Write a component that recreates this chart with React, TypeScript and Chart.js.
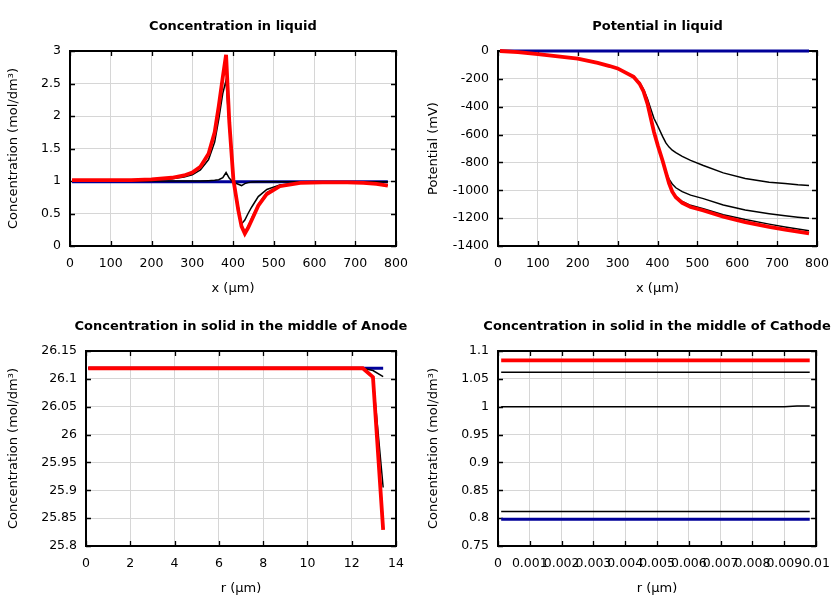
import React, { useEffect, useRef } from 'react';
import { Chart, registerables } from 'chart.js';
Chart.register(...registerables);

const FONT = "'DejaVu Sans', sans-serif";

// ---------- Liquid phase (x in µm) ----------
const xLiquid = [5, 50, 100, 150, 200, 250, 280, 300, 320, 340, 355, 365, 375, 383, 391, 401, 413, 421, 429, 437, 446, 462, 483, 515, 565, 620, 680, 720, 752, 780];

const concLiqBlue = [0.99, 0.99, 0.99, 0.99, 0.99, 0.99, 0.99, 0.99, 0.99, 0.99, 0.99, 0.99, 0.99, 0.99, 0.99, 0.99, 0.99, 0.99, 0.99, 0.99, 0.99, 0.99, 0.99, 0.99, 0.99, 0.99, 0.99, 0.99, 0.99, 0.99];
const concLiqBlack1 = [1.0, 1.0, 1.0, 1.0, 1.0, 1.0, 1.0, 1.0, 1.0, 1.005, 1.01, 1.02, 1.05, 1.13, 1.04, 0.98, 0.95, 0.93, 0.96, 0.975, 0.985, 0.99, 0.99, 0.99, 0.99, 0.99, 0.99, 0.99, 0.99, 0.99];
const concLiqBlack2 = [1.005, 1.003, 1.005, 1.008, 1.015, 1.035, 1.06, 1.095, 1.17, 1.33, 1.6, 1.95, 2.35, 2.55, 1.8, 1.05, 0.6, 0.34, 0.4, 0.5, 0.6, 0.76, 0.87, 0.94, 0.975, 0.985, 0.99, 0.99, 0.99, 0.99];
const concLiqBlack3 = [1.013, 1.01, 1.01, 1.013, 1.023, 1.047, 1.08, 1.125, 1.21, 1.41, 1.72, 2.12, 2.57, 2.9, 1.88, 1.03, 0.56, 0.32, 0.22, 0.3, 0.43, 0.64, 0.82, 0.93, 0.972, 0.983, 0.983, 0.975, 0.96, 0.935];
const concLiqRed = [1.015, 1.012, 1.012, 1.015, 1.025, 1.05, 1.085, 1.13, 1.22, 1.42, 1.75, 2.15, 2.6, 2.94, 1.9, 1.02, 0.55, 0.3, 0.19, 0.28, 0.4, 0.62, 0.8, 0.92, 0.97, 0.98, 0.98, 0.972, 0.955, 0.928];

const potLiqBlue = [0, 0, 0, 0, 0, 0, 0, 0, 0, 0, 0, 0, 0, 0, 0, 0, 0, 0, 0, 0, 0, 0, 0, 0, 0, 0, 0, 0, 0, 0];
const potLiqBlack1 = [0, -8, -22, -38, -55, -85, -108, -125, -155, -192, -225, -275, -345, -415, -483, -540, -615, -660, -690, -712, -730, -757, -785, -822, -875, -915, -942, -952, -960, -965];
const potLiqBlack2 = [0, -8, -22, -38, -55, -85, -108, -125, -155, -185, -235, -290, -380, -480, -580, -680, -790, -870, -920, -955, -982, -1010, -1035, -1060, -1105, -1142, -1168, -1183, -1193, -1201];
const potLiqBlack3 = [0, -8, -22, -38, -55, -85, -108, -125, -155, -185, -235, -290, -380, -480, -580, -680, -790, -870, -950, -1005, -1045, -1080, -1108, -1133, -1176, -1210, -1243, -1263, -1278, -1290];
const potLiqRed = [0, -8, -22, -38, -55, -85, -108, -125, -155, -185, -235, -290, -380, -480, -580, -680, -790, -870, -950, -1010, -1050, -1090, -1120, -1145, -1190, -1228, -1262, -1282, -1297, -1310];

// ---------- Solid, anode (r in µm) ----------
const rAnode = [0.1, 2, 4, 6, 8, 10, 12, 12.5, 12.96, 13.42];
const anodeBlue = [26.119, 26.119, 26.119, 26.119, 26.119, 26.119, 26.119, 26.119, 26.119, 26.119];
const anodeBlack1 = [26.119, 26.119, 26.119, 26.119, 26.119, 26.119, 26.119, 26.119, 26.115, 26.104];
const anodeBlack2 = [26.119, 26.119, 26.119, 26.119, 26.119, 26.119, 26.119, 26.119, 26.104, 25.905];
const anodeBlack3 = [26.119, 26.119, 26.119, 26.119, 26.119, 26.119, 26.119, 26.119, 26.104, 25.84];
const anodeRed = [26.119, 26.119, 26.119, 26.119, 26.119, 26.119, 26.119, 26.119, 26.103, 25.829];

// ---------- Solid, cathode (r in µm) ----------
const rCathode = [0.0001, 0.001, 0.002, 0.003, 0.004, 0.005, 0.006, 0.007, 0.008, 0.009, 0.0094, 0.0098];
const cathodeBlue = [0.798, 0.798, 0.798, 0.798, 0.798, 0.798, 0.798, 0.798, 0.798, 0.798, 0.798, 0.798];
const cathodeBlack1 = [0.812, 0.812, 0.812, 0.812, 0.812, 0.812, 0.812, 0.812, 0.812, 0.812, 0.812, 0.812];
const cathodeBlack2 = [1.0, 1.0, 1.0, 1.0, 1.0, 1.0, 1.0, 1.0, 1.0, 1.0, 1.0012, 1.0013];
const cathodeBlack3 = [1.062, 1.062, 1.062, 1.062, 1.062, 1.062, 1.062, 1.062, 1.062, 1.062, 1.062, 1.062];
const cathodeRed = [1.083, 1.083, 1.083, 1.083, 1.083, 1.083, 1.083, 1.083, 1.083, 1.083, 1.083, 1.083];

const BLUE = '#000099';
const RED = '#ff0000';
const BLACK = '#000000';

function series(xs: number[], ys: number[], color: string, width: number, order: number) {
  return {
    data: xs.map((x, i) => ({ x, y: ys[i] })),
    borderColor: color,
    backgroundColor: color,
    borderWidth: width,
    pointRadius: 0,
    tension: 0,
    fill: false,
    clip: 3,
    order,
  };
}

const framePlugin = {
  id: 'gnuFrame',
  beforeDatasetsDraw(chart: any, _args: any, opts: any) {
    const { ctx, chartArea } = chart;
    const { left, right, top, bottom } = chartArea;
    const xs = chart.scales.x;
    const ys = chart.scales.y;
    ctx.save();
    ctx.strokeStyle = '#000';
    ctx.lineWidth = 1.3;
    ctx.beginPath();
    xs.ticks.forEach((t: any) => {
      const p = Math.round(xs.getPixelForValue(t.value)) + 0.5;
      ctx.moveTo(p, bottom);
      ctx.lineTo(p, bottom - 5);
      ctx.moveTo(p, top);
      ctx.lineTo(p, top + 5);
    });
    ys.ticks.forEach((t: any) => {
      const p = Math.round(ys.getPixelForValue(t.value)) + 0.5;
      ctx.moveTo(left, p);
      ctx.lineTo(left + 5, p);
      ctx.moveTo(right, p);
      ctx.lineTo(right - 5, p);
    });
    ctx.stroke();
    ctx.lineWidth = 2;
    ctx.strokeRect(left, top, right - left, bottom - top);
    ctx.fillStyle = '#000';
    ctx.font = `bold 13px ${FONT}`;
    ctx.textAlign = 'center';
    ctx.textBaseline = 'middle';
    ctx.fillText(opts.text, (left + right) / 2, 27);
    ctx.restore();
  },
};

const fmt = (v: any) => String(parseFloat(Number(v).toFixed(4)));

interface PanelProps {
  title: string;
  datasets: any[];
  xMin: number; xMax: number; xStep: number;
  yMin: number; yMax: number; yStep: number;
  xTitle: string; yTitle: string;
  leftW: number; rightPad: number;
}

function Panel(p: PanelProps) {
  const ref = useRef<HTMLCanvasElement | null>(null);
  useEffect(() => {
    if (!ref.current) return;
    const tickFont = { family: FONT, size: 12.5 };
    const titleFont = { family: FONT, size: 13 };
    const chart = new Chart(ref.current, {
      type: 'line',
      data: { datasets: p.datasets },
      plugins: [framePlugin],
      options: {
        animation: false,
        responsive: false,
        maintainAspectRatio: false,
        devicePixelRatio: 1,
        layout: { padding: { top: 51, right: p.rightPad, left: 0, bottom: 0 } },
        plugins: {
          legend: { display: false },
          tooltip: { enabled: false },
          title: { display: false },
          gnuFrame: { text: p.title },
        } as any,
        scales: {
          x: {
            type: 'linear',
            min: p.xMin, max: p.xMax,
            ticks: { stepSize: p.xStep, autoSkip: false, maxRotation: 0, minRotation: 0, padding: 10, color: '#000', font: tickFont, callback: fmt },
            grid: { color: '#d6d6d6', lineWidth: 1, drawTicks: false },
            border: { display: false },
            title: { display: true, text: p.xTitle, color: '#000', font: titleFont, padding: { top: 0, bottom: 4 } },
            afterFit: (s: any) => { s.height = 54; },
          },
          y: {
            type: 'linear',
            min: p.yMin, max: p.yMax,
            ticks: { stepSize: p.yStep, autoSkip: false, padding: 9, color: '#000', font: tickFont, callback: fmt },
            grid: { color: '#d6d6d6', lineWidth: 1, drawTicks: false },
            border: { display: false },
            title: { display: true, text: p.yTitle, color: '#000', font: titleFont, padding: { top: 6, bottom: 0 } },
            afterFit: (s: any) => { s.width = p.leftW; },
          },
        },
      } as any,
    });
    return () => chart.destroy();
  }, []);
  return <canvas ref={ref} width={420} height={300} style={{ display: 'block', width: 420, height: 300 }} />;
}

export default function App() {
  const liqConc = [
    series(xLiquid, concLiqRed, RED, 3.8, 1),
    series(xLiquid, concLiqBlack3, BLACK, 1.5, 2),
    series(xLiquid, concLiqBlack2, BLACK, 1.5, 3),
    series(xLiquid, concLiqBlack1, BLACK, 1.5, 4),
    series(xLiquid, concLiqBlue, BLUE, 3, 5),
  ];
  const liqPot = [
    series(xLiquid, potLiqRed, RED, 3.8, 1),
    series(xLiquid, potLiqBlack3, BLACK, 1.5, 2),
    series(xLiquid, potLiqBlack2, BLACK, 1.5, 3),
    series(xLiquid, potLiqBlack1, BLACK, 1.5, 4),
    series(xLiquid, potLiqBlue, BLUE, 3, 5),
  ];
  const anode = [
    series(rAnode, anodeRed, RED, 3.8, 1),
    series(rAnode, anodeBlack3, BLACK, 1.5, 2),
    series(rAnode, anodeBlack2, BLACK, 1.5, 3),
    series(rAnode, anodeBlack1, BLACK, 1.5, 4),
    series(rAnode, anodeBlue, BLUE, 3, 5),
  ];
  const cathode = [
    series(rCathode, cathodeRed, RED, 3.8, 1),
    series(rCathode, cathodeBlack3, BLACK, 1.5, 2),
    series(rCathode, cathodeBlack2, BLACK, 1.5, 3),
    series(rCathode, cathodeBlack1, BLACK, 1.5, 4),
    series(rCathode, cathodeBlue, BLUE, 3, 5),
  ];
  const cell = (l: number, t: number): React.CSSProperties => ({ position: 'absolute', left: l, top: t, width: 420, height: 300 });
  return (
    <div style={{ position: 'fixed', left: 0, top: 0, width: 840, height: 600, background: '#fff' }}>
      <div style={cell(0, 0)}>
        <Panel title="Concentration in liquid" datasets={liqConc} xMin={0} xMax={800} xStep={100} yMin={0} yMax={3} yStep={0.5} xTitle="x (µm)" yTitle="Concentration (mol/dm³)" leftW={70} rightPad={24} />
      </div>
      <div style={cell(420, 0)}>
        <Panel title="Potential in liquid" datasets={liqPot} xMin={0} xMax={800} xStep={100} yMin={-1400} yMax={0} yStep={200} xTitle="x (µm)" yTitle="Potential (mV)" leftW={78} rightPad={23} />
      </div>
      <div style={cell(0, 300)}>
        <Panel title="Concentration in solid in the middle of Anode" datasets={anode} xMin={0} xMax={14} xStep={2} yMin={25.8} yMax={26.15} yStep={0.05} xTitle="r (µm)" yTitle="Concentration (mol/dm³)" leftW={86} rightPad={24} />
      </div>
      <div style={cell(420, 300)}>
        <Panel title="Concentration in solid in the middle of Cathode" datasets={cathode} xMin={0} xMax={0.01} xStep={0.001} yMin={0.75} yMax={1.1} yStep={0.05} xTitle="r (µm)" yTitle="Concentration (mol/dm³)" leftW={78} rightPad={23} />
      </div>
    </div>
  );
}
